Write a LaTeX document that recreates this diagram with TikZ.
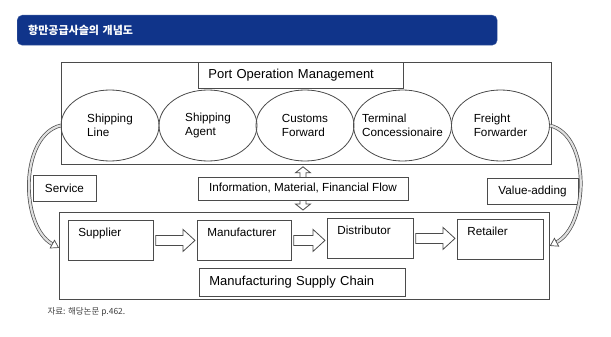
\documentclass[tikz,border=0pt]{standalone}
\usepackage{fontspec}
\setmainfont{Liberation Sans}
\newfontfamily\krfont{Noto Sans CJK KR}
\usepackage{xcolor}
\usepackage{tikz}
\usetikzlibrary{arrows.meta,positioning,shapes.geometric,calc,backgrounds}

\definecolor{bannerblue}{RGB}{16,52,138}
\definecolor{linegray}{RGB}{75,75,75}

\begin{document}
\begin{tikzpicture}[
  x=1pt, y=-1pt,
  banner/.style={rectangle, rounded corners=5pt, fill=bannerblue, draw=bannerblue!80,
                 minimum width=480pt, minimum height=30pt, text width=458pt,
                 inner xsep=11pt, align=left, text=white,
                 font=\krfont\bfseries\fontsize{11}{13}\selectfont},
  frame/.style={rectangle, draw=linegray, line width=0.8pt, inner sep=0pt},
  heading/.style={rectangle, draw=linegray, line width=0.8pt, fill=white,
                  inner xsep=10pt, inner ysep=0pt, align=left,
                  font=\fontsize{13}{15}\selectfont},
  party/.style={ellipse, draw=linegray, line width=0.8pt, minimum width=98pt,
                minimum height=71pt, inner xsep=-10pt, inner ysep=0pt, align=left,
                font=\fontsize{11.7}{13.5}\selectfont},
  tag/.style={rectangle, draw=linegray, line width=0.8pt, fill=white,
              inner sep=0pt, align=center, font=\fontsize{11.7}{13.5}\selectfont},
  stage/.style={rectangle, draw=linegray, line width=0.8pt, minimum height=40pt,
                inner xsep=10pt, inner ysep=4pt, text height=12pt, text depth=20pt,
                align=left, font=\fontsize{11.7}{13.5}\selectfont},
  pusharrow/.style={draw=linegray, line width=0.8pt, line join=miter,
    to path={let \p1=(\tikztostart), \p2=(\tikztotarget) in
      (\x1+2pt,\y1+5pt) -- (\x2-14pt,\y1+5pt) -- (\x2-14pt,\y1+11pt) -- (\x2-2pt,\y1)
      -- (\x2-14pt,\y1-11pt) -- (\x2-14pt,\y1-5pt) -- (\x1+2pt,\y1-5pt) -- cycle}},
  flowarrow/.style={draw=linegray, fill=white, line width=0.8pt, line join=miter,
    to path={let \p1=(\tikztostart), \p2=(\tikztotarget) in
      (\x1,\y1-2pt) -- (\x1+7.5pt,\y1-8pt) -- (\x1+3pt,\y1-8pt) -- (\x1+3pt,\y2+8pt)
      -- (\x1+7.5pt,\y2+8pt) -- (\x1,\y2+2pt) -- (\x1-7.5pt,\y2+8pt) -- (\x1-3pt,\y2+8pt)
      -- (\x1-3pt,\y1-8pt) -- (\x1-7.5pt,\y1-8pt) -- cycle}},
  reach/.style={draw=linegray, line width=0.7pt, double=gray!25, double distance=2.2pt,
                -{Triangle[open, length=8pt, width=10pt]}},
]
\useasboundingbox (0,0) rectangle (611,337);

% Title bar
\node[banner, anchor=north west] (banner) at (17,15) {항만공급사슬의 개념도};

% Port side
\node[frame, anchor=north west, minimum width=490pt, minimum height=102pt] (port) at (61,62) {};
\node[heading, anchor=north west, minimum width=205pt, minimum height=26pt, text width=185pt]
  (portmgmt) at (198,62) {Port Operation Management};

\node[party] (shipline) at (110,125.5) {Shipping\\Line};
\node[party] (shipagent) at (208,125.5) {Shipping\\Agent};
\node[party] (customs) at (305,125.5) {Customs\\Forward};
\node[party] (terminal) at (402.5,125.5) {Terminal\\Concessionaire};
\node[party] (freight) at (500.5,125.5) {Freight\\Forwarder};

% Middle labels
\node[tag, minimum width=63pt, minimum height=26pt] (service) at (64.5,188) {Service};
\node[tag, minimum width=210pt, minimum height=23pt] (info) at (303,188.5)
  {Information, Material, Financial Flow};
\node[tag, minimum width=91pt, minimum height=26pt] (value) at (532.5,191) {Value-adding};

% Manufacturing side
\node[frame, anchor=north west, minimum width=490pt, minimum height=87pt] (chain) at (59,212) {};
\node[stage, anchor=north west, text width=65pt] (supplier) at (68,220) {Supplier};
\node[stage, anchor=north west, text width=74pt] (maker) at (197,220) {Manufacturer};
\node[stage, anchor=north west, text width=66pt] (distrib) at (327,218) {Distributor};
\node[stage, anchor=north west, text width=66pt] (retail) at (457,219) {Retailer};
\node[heading, anchor=north west, minimum width=206pt, minimum height=28pt, text width=186pt]
  (chainmgmt) at (199,268) {Manufacturing Supply Chain};

% Flows
\draw[pusharrow] (supplier.east) to (maker.west);
\draw[pusharrow] (maker.east) to (distrib.west);
\draw[pusharrow] (distrib.east) to (retail.west);

\begin{scope}[on background layer]
\draw[flowarrow] (port.south -| info.north) to (chain.north -| info.south);
\end{scope}

\draw[reach] (shipline.west) .. controls +(-41,10) and +(-39,-22) .. ([yshift=8pt]chain.west);
\draw[reach] (freight.east) .. controls +(41,10) and +(39,-21) .. ([yshift=10pt]chain.east);

% Source
\node[anchor=west, text=black!75, font=\krfont\fontsize{8.5}{10}\selectfont] (source) at (44,312)
  {자료: 해당논문 p.462.};

\end{tikzpicture}
\end{document}
